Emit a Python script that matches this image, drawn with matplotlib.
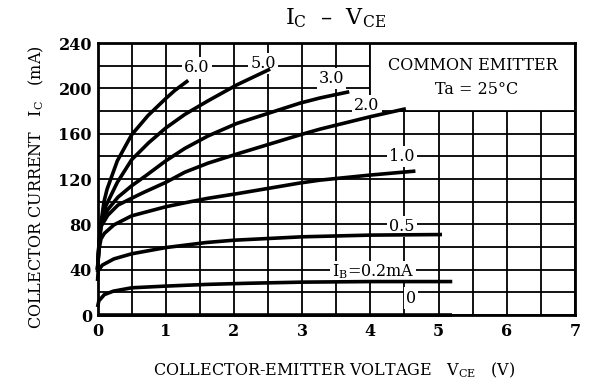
import matplotlib
matplotlib.use('Agg')
import matplotlib.pyplot as plt
import numpy as np
from matplotlib.patches import Rectangle

plt.rcParams['font.family'] = ['DejaVu Serif']
plt.rcParams['mathtext.fontset'] = 'dejavuserif'

# base current curves, IB in mA
ib_labels = ['6.0', '5.0', '3.0', '2.0', '1.0', '0.5', r'I$_{\mathregular{B}}$=0.2mA', '0']

vce_60 = [0, 0.02, 0.05, 0.095, 0.14, 0.29, 0.5, 0.74, 1.0, 1.13, 1.33]
ic_60 = [40, 62, 81, 100, 111, 136, 159, 176, 191, 198, 207]

vce_50 = [0, 0.02, 0.05, 0.12, 0.29, 0.5, 0.75, 1.0, 1.28, 1.62, 2.04, 2.53]
ic_50 = [40, 60, 80, 96, 117, 137, 152, 165, 177, 189, 203, 217]

vce_30 = [0, 0.02, 0.05, 0.15, 0.3, 0.5, 0.71, 1.0, 1.28, 1.62, 2.04, 2.97, 3.26, 3.69]
ic_30 = [40, 60, 79, 93, 104, 114, 123, 136, 147, 158, 169, 187, 191.5, 197]

vce_20 = [0, 0.02, 0.05, 0.15, 0.3, 0.5, 0.67, 1.0, 1.28, 1.62, 2.04, 2.97, 3.26, 4.0, 4.52]
ic_20 = [40, 60, 78, 88, 97, 103, 108, 117, 126, 134, 142, 159, 164, 175, 182]

vce_10 = [0, 0.02, 0.05, 0.1, 0.24, 0.5, 1.0, 1.28, 1.62, 2.04, 2.97, 3.26, 4.0, 4.66]
ic_10 = [38, 57, 67, 72, 79.5, 87.5, 95.5, 99, 103, 107, 116.5, 119, 123.5, 127]

vce_05 = [0, 0.01, 0.07, 0.24, 0.5, 1.0, 1.6, 2.0, 3.0, 4.0, 5.05]
ic_05 = [30, 39, 44, 49.5, 54, 59.5, 64, 66, 69, 70.5, 71]

vce_02 = [0, 0.02, 0.1, 0.23, 0.5, 1.0, 1.6, 2.2, 3.0, 4.0, 5.2]
ic_02 = [7, 12.5, 18, 21, 24, 25.5, 27, 28, 29, 29.5, 29.5]

vce_00 = [0, 5.2]
ic_00 = [0, 0]

curves = [(vce_60, ic_60), (vce_50, ic_50), (vce_30, ic_30), (vce_20, ic_20),
          (vce_10, ic_10), (vce_05, ic_05), (vce_02, ic_02), (vce_00, ic_00)]

# label positions (data coords)
label_x = [1.46, 2.43, 3.43, 3.95, 4.46, 4.46, 4.04, 4.6]
label_y = [218, 222, 209, 184.5, 140, 78, 38, 15]

fig = plt.figure(figsize=(5.91, 3.90), dpi=100)
ax = fig.add_axes([0.165, 0.1923, 0.808, 0.6974])

ax.set_xlim(0, 7)
ax.set_ylim(0, 240)
ax.set_xticks(np.arange(0, 8, 1))
ax.set_yticks(np.arange(0, 241, 40))
ax.set_xticks(np.arange(0, 7.01, 0.5), minor=True)
ax.set_yticks(np.arange(0, 241, 20), minor=True)
ax.grid(which='both', color='black', linewidth=1.3, zorder=1)
ax.tick_params(which='both', length=0)
ax.tick_params(axis='x', pad=6)
ax.tick_params(axis='y', pad=4)
for lbl in ax.get_xticklabels() + ax.get_yticklabels():
    lbl.set_fontsize(11.5)
    lbl.set_fontweight('bold')
for s in ax.spines.values():
    s.set_linewidth(2)

# info box in top right
ax.add_patch(Rectangle((4.0, 180), 3.0, 60, facecolor='white', edgecolor='black',
                       linewidth=1.3, zorder=2))
ax.text(5.5, 220, 'COMMON EMITTER', ha='center', va='center', fontsize=11.5, zorder=3)
ax.text(5.55, 199, 'Ta = 25°C', ha='center', va='center', fontsize=11.5, zorder=3)

for (vx, vy) in curves:
    ax.plot(vx, vy, color='black', linewidth=2.6, zorder=4, solid_capstyle='butt',
            solid_joinstyle='round', clip_on=False)

for t, lx, ly in zip(ib_labels, label_x, label_y):
    ax.text(lx, ly, t, ha='center', va='center', fontsize=11.5, zorder=3,
            bbox=dict(facecolor='white', edgecolor='none', pad=1.5))

fig.text(0.567, 0.953, r'I$_{\mathregular{C}}$  –  V$_{\mathregular{CE}}$',
         ha='center', va='center', fontsize=16)
fig.text(0.565, 0.05, r'COLLECTOR-EMITTER VOLTAGE   V$_{\mathregular{CE}}$   (V)',
         ha='center', va='center', fontsize=11.5)
fig.text(0.062, 0.52, r'COLLECTOR CURRENT   I$_{\mathregular{C}}$   (mA)',
         ha='center', va='center', fontsize=11.5, rotation=90)

fig.savefig('out.png', dpi=100)
